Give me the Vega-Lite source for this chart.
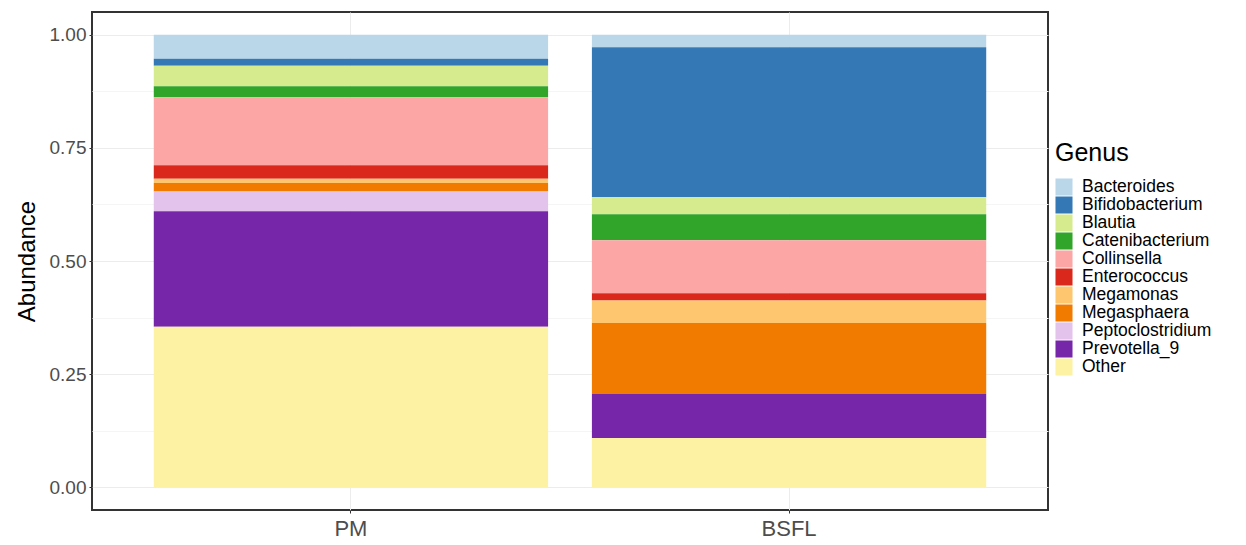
{
  "$schema": "https://vega.github.io/schema/vega-lite/v6.json",
  "width": 956,
  "height": 498,
  "autosize": "none",
  "padding": {"left": 92, "top": 12, "right": 198, "bottom": 35},
  "background": "white",
  "config": {
    "view": {"stroke": "#333333", "strokeWidth": 2},
    "font": "Liberation Sans"
  },
  "data": {
    "values": [
      {"Sample": "PM", "Genus": "Bacteroides", "Abundance": 0.053},
      {"Sample": "PM", "Genus": "Bifidobacterium", "Abundance": 0.0155},
      {"Sample": "PM", "Genus": "Blautia", "Abundance": 0.0455},
      {"Sample": "PM", "Genus": "Catenibacterium", "Abundance": 0.0245},
      {"Sample": "PM", "Genus": "Collinsella", "Abundance": 0.150},
      {"Sample": "PM", "Genus": "Enterococcus", "Abundance": 0.030},
      {"Sample": "PM", "Genus": "Megamonas", "Abundance": 0.009},
      {"Sample": "PM", "Genus": "Megasphaera", "Abundance": 0.019},
      {"Sample": "PM", "Genus": "Peptoclostridium", "Abundance": 0.0435},
      {"Sample": "PM", "Genus": "Prevotella_9", "Abundance": 0.255},
      {"Sample": "PM", "Genus": "Other", "Abundance": 0.355},
      {"Sample": "BSFL", "Genus": "Bacteroides", "Abundance": 0.028},
      {"Sample": "BSFL", "Genus": "Bifidobacterium", "Abundance": 0.331},
      {"Sample": "BSFL", "Genus": "Blautia", "Abundance": 0.038},
      {"Sample": "BSFL", "Genus": "Catenibacterium", "Abundance": 0.057},
      {"Sample": "BSFL", "Genus": "Collinsella", "Abundance": 0.117},
      {"Sample": "BSFL", "Genus": "Enterococcus", "Abundance": 0.016},
      {"Sample": "BSFL", "Genus": "Megamonas", "Abundance": 0.050},
      {"Sample": "BSFL", "Genus": "Megasphaera", "Abundance": 0.157},
      {"Sample": "BSFL", "Genus": "Prevotella_9", "Abundance": 0.097},
      {"Sample": "BSFL", "Genus": "Other", "Abundance": 0.109}
    ]
  },
  "transform": [
    {"calculate": "indexof(['Bacteroides','Bifidobacterium','Blautia','Catenibacterium','Collinsella','Enterococcus','Megamonas','Megasphaera','Peptoclostridium','Prevotella_9','Other'], datum.Genus)", "as": "rank"}
  ],
  "mark": {"type": "bar"},
  "encoding": {
    "x": {
      "field": "Sample",
      "type": "nominal",
      "sort": ["PM", "BSFL"],
      "scale": {"paddingInner": 0.1, "paddingOuter": 0.141},
      "axis": {
        "title": null,
        "domain": false,
        "labelAngle": 0,
        "labelFontSize": 22,
        "labelColor": "#4d4d4d",
        "labelPadding": 5,
        "tickSize": 3,
        "tickColor": "#333333",
        "tickBand": "center",
        "grid": true,
        "gridColor": "#ececec"
      }
    },
    "y": {
      "field": "Abundance",
      "type": "quantitative",
      "stack": "zero",
      "scale": {"domain": [-0.05, 1.05], "nice": false, "zero": false},
      "axis": {
        "title": "Abundance",
        "titleFontSize": 24,
        "titleFontWeight": "normal",
        "titleColor": "#000000",
        "titlePadding": 10,
        "domain": false,
        "values": [0, 0.125, 0.25, 0.375, 0.5, 0.625, 0.75, 0.875, 1],
        "labelExpr": "datum.value % 0.25 === 0 ? format(datum.value, '.2f') : ''",
        "labelFontSize": 19,
        "labelColor": "#4d4d4d",
        "labelPadding": 3,
        "tickSize": 3,
        "tickColor": "#333333",
        "tickOpacity": {"condition": {"test": "datum.value % 0.25 !== 0", "value": 0}, "value": 1},
        "grid": true,
        "gridColor": {"condition": {"test": "datum.value % 0.25 !== 0", "value": "#f5f5f5"}, "value": "#ececec"}
      }
    },
    "color": {
      "field": "Genus",
      "type": "nominal",
      "scale": {
        "domain": ["Bacteroides", "Bifidobacterium", "Blautia", "Catenibacterium", "Collinsella", "Enterococcus", "Megamonas", "Megasphaera", "Peptoclostridium", "Prevotella_9", "Other"],
        "range": ["#bad6e9", "#3479b5", "#d5eb8d", "#31a52a", "#fca6a6", "#da291c", "#fec66e", "#f07b00", "#e3c2ec", "#7627a9", "#fdf1a3"]
      },
      "legend": {
        "orient": "none",
        "legendX": 963,
        "legendY": 129,
        "title": "Genus",
        "titleFontSize": 25,
        "titleFontWeight": "normal",
        "titleColor": "#000000",
        "titlePadding": 12,
        "labelFontSize": 17.5,
        "labelColor": "#000000",
        "labelOffset": 9,
        "symbolType": "square",
        "symbolSize": 290,
        "symbolStrokeWidth": 0,
        "symbolOpacity": 1,
        "rowPadding": -0.6,
        "padding": 0
      }
    },
    "order": {"field": "rank", "type": "quantitative", "sort": "descending"}
  }
}
